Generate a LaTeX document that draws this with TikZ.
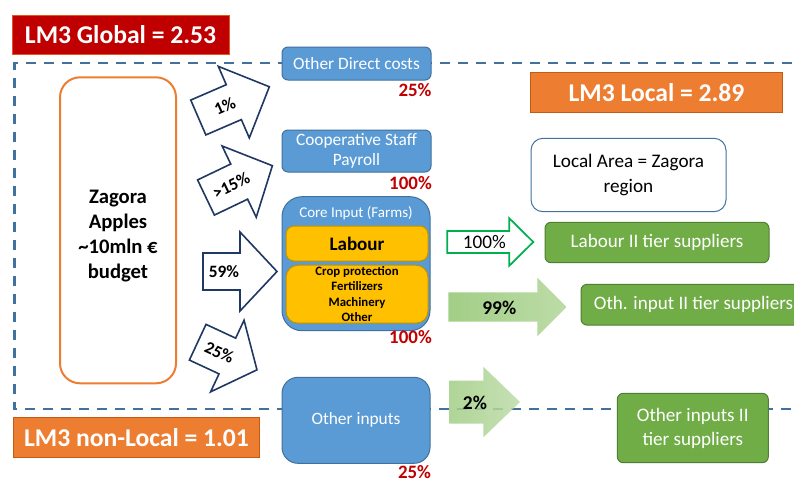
\documentclass[tikz,border=0pt]{standalone}
\usepackage{fontspec}
\setmainfont{Carlito}
\definecolor{dred}{HTML}{C00000}
\definecolor{orng}{HTML}{ED7D31}
\definecolor{orngbd}{HTML}{C55A11}
\definecolor{bfill}{HTML}{5B9BD5}
\definecolor{bbd}{HTML}{41719C}
\definecolor{gfill}{HTML}{70AD47}
\definecolor{gbd}{HTML}{507E32}
\definecolor{yel}{HTML}{FFC000}
\definecolor{yelbd}{HTML}{BF9000}
\definecolor{navy}{HTML}{203864}
\definecolor{ggreen}{HTML}{00B050}
\definecolor{lgA}{HTML}{A2CE86}
\definecolor{lgB}{HTML}{BDDCA8}
\definecolor{dashc}{HTML}{41719C}
\newcommand{\pxu}{0.75pt}
\tikzset{
  box/.style={inner sep=0pt, align=center, line width=0.75pt},
  bluebox/.style={box, draw=bbd, fill=bfill, text=white, rounded corners=4.5pt, font=\fontsize{13}{15.5}\selectfont},
  greenbox/.style={box, draw=gbd, fill=gfill, text=white, rounded corners=4.5pt, font=\fontsize{14.3}{18}\selectfont},
  lmbox/.style={box, text=white, font=\bfseries\fontsize{19.2}{23}\selectfont},
  pct/.style={text=dred, font=\bfseries\fontsize{14.2}{17}\selectfont, inner sep=0pt},
  yelbox/.style={box, draw=yelbd, fill=yel, rounded corners=6pt, text=black},
  barrowline/.style={draw=navy, line width=1.2pt, fill=white, line join=miter},
  alabel/.style={font=\bfseries\fontsize{13}{15}\selectfont, inner sep=0pt},
  glabel/.style={font=\fontsize{14.4}{17}\selectfont, inner sep=0pt},
  gblabel/.style={font=\bfseries\fontsize{14.6}{17}\selectfont, inner sep=0pt},
  dashline/.style={draw=dashc, line width=1.6pt, dash pattern=on 7.5pt off 6pt},
}
% name, x, y, angle, half-length, h, H, text offset, text
\newcommand{\blkarrow}[9]{%
  \begin{scope}[shift={(#2,#3)}, rotate=#4]
    \draw[barrowline] (0,-#6) -- (#5,-#6) -- (#5,-#7) -- ({2*#5},0) -- (#5,#7) -- (#5,#6) -- (0,#6) -- cycle;
    \node[alabel, rotate=#4] (#1) at (#8,0) {#9};
  \end{scope}}
\begin{document}
\begin{tikzpicture}[x=0.75pt,y=-0.75pt]
\useasboundingbox[fill=white] (0,0) rectangle (794,480);

% dashed local boundary
\draw[dashline] (810,63.3) -- (14.5,63.3) -- (14.5,409.3) -- (810,409.3);

% LM3 labels
\node[lmbox, fill=dred, draw=orng!70!dred, minimum width=217*\pxu, minimum height=39*\pxu] (glob) at (120.5,34.5) {LM3 Global = 2.53};
\node[lmbox, fill=orng, draw=orngbd, minimum width=246*\pxu, minimum height=40*\pxu] (nonloc) at (136.5,437.5) {LM3 non-Local = 1.01};
\node[lmbox, fill=orng, draw=orngbd, minimum width=252*\pxu, minimum height=40*\pxu] (loc) at (656.5,92.5) {LM3 Local = 2.89};

% Zagora
\node[box, draw=orng, line width=1.5pt, fill=white, rounded corners=15pt, minimum width=116*\pxu, minimum height=306*\pxu] (zag) at (118,230.3) {};
\node[align=center, inner sep=0pt, font=\bfseries\fontsize{15.5}{18.7}\selectfont] (zagt) at (118,236) {Zagora\\Apples\\\textasciitilde10mln €\\budget};

% blue boxes
\node[bluebox, minimum width=149*\pxu, minimum height=33*\pxu] (odc) at (356.5,63.5) {Other Direct costs};
\node[bluebox, minimum width=149*\pxu, minimum height=42*\pxu] (coop) at (356.5,151) {Cooperative Staff\\Payroll};
\node[bluebox, rounded corners=15pt, minimum width=148*\pxu, minimum height=134*\pxu] (core) at (356,263.7) {};
\node[text=white, inner sep=0pt, font=\fontsize{11.25}{13}\selectfont] (coret) at (356,213.5) {Core Input (Farms)};
\node[yelbox, minimum width=142*\pxu, minimum height=35*\pxu, font=\bfseries\fontsize{14.3}{17}\selectfont] (lab) at (357,243.5) {Labour};
\node[yelbox, rounded corners=9pt, minimum width=142*\pxu, minimum height=58*\pxu, font=\bfseries\fontsize{9.6}{11.6}\selectfont] (crop) at (357,294.2) {Crop protection\\Fertilizers\\Machinery\\Other};
\node[bluebox, rounded corners=12pt, minimum width=148*\pxu, minimum height=86*\pxu] (othin) at (356,420.3) {Other inputs};

% red percentages
\node[pct] (p1) at (415,90) {25\%};
\node[pct] (p2) at (410.5,183) {100\%};
\node[pct] (p3) at (410.5,336.7) {100\%};
\node[pct] (p4) at (414.5,472.3) {25\%};

% blue block arrows
\blkarrow{a1}{198.3}{117.5}{23.4}{38.7}{19}{39}{29}{1\%}
\blkarrow{a2}{206}{197.5}{25.6}{36.8}{19.5}{39.5}{28}{>15\%}
\blkarrow{a3}{203}{271.5}{0}{37}{18.5}{39.5}{21}{59\%}
\blkarrow{a4}{197.7}{342.2}{-25}{32.7}{19.7}{39.5}{24}{25\%}

% right side
\node[box, draw=bbd, fill=white, rounded corners=9pt, minimum width=195*\pxu, minimum height=73.4*\pxu, font=\fontsize{14.4}{18.3}\selectfont] (area) at (628.5,175) {Local Area = Zagora\\region};
\node[greenbox, minimum width=224*\pxu, minimum height=40.4*\pxu] (lab2) at (657,242.5) {Labour II tier suppliers};
\node[greenbox, minimum width=225*\pxu, minimum height=40.7*\pxu] (oth2) at (693.5,304.7) {Oth. input II tier suppliers};
\node[greenbox, minimum width=151*\pxu, minimum height=69.4*\pxu] (oi2) at (692.8,428) {Other inputs II\\tier suppliers};

% green arrows
\draw[draw=ggreen, line width=1.3pt, fill=white] (447.3,231) -- (509.3,231) -- (509.3,218.3) -- (533.3,242) -- (509.3,265.7) -- (509.3,253) -- (447.3,253) -- cycle;
\node[glabel] (g1) at (484.3,242.5) {100\%};
\path[left color=lgA, right color=lgB] (448.3,292.3) -- (537.3,292.3) -- (537.3,277.7) -- (566.7,307) -- (537.3,336.3) -- (537.3,321.7) -- (448.3,321.7) -- cycle;
\node[gblabel] (g2) at (499.3,307.7) {99\%};
\path[left color=lgA, right color=lgB, fill opacity=0.85] (449.3,380.5) -- (483.3,380.5) -- (483.3,366.7) -- (520,402) -- (483.3,437.3) -- (483.3,423.5) -- (449.3,423.5) -- cycle;
\node[gblabel] (g3) at (475,402.7) {2\%};
\end{tikzpicture}
\end{document}
